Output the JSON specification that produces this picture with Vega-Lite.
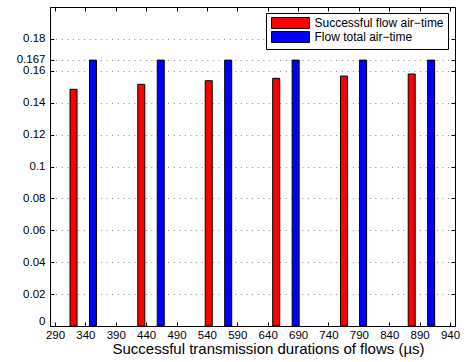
{
  "$schema": "https://vega.github.io/schema/vega-lite/v6.json",
  "width": 405,
  "height": 319,
  "autosize": {"type": "none"},
  "padding": {"left": 50, "top": 7, "right": 18, "bottom": 36},
  "background": "white",
  "config": {
    "font": "Liberation Sans",
    "view": {"stroke": "black", "strokeWidth": 1},
    "axis": {
      "labelFont": "Liberation Sans",
      "labelFontSize": 11.5,
      "labelColor": "black",
      "titleFont": "Liberation Sans",
      "titleFontSize": 15,
      "titleFontWeight": "normal",
      "titleColor": "black",
      "domainColor": "black",
      "tickColor": "black",
      "tickSize": -4
    }
  },
  "data": {
    "values": [
      {"duration": 320.5, "airtime": 0.1484, "series": "Successful flow air−time"},
      {"duration": 432, "airtime": 0.1515, "series": "Successful flow air−time"},
      {"duration": 543, "airtime": 0.1538, "series": "Successful flow air−time"},
      {"duration": 654, "airtime": 0.1553, "series": "Successful flow air−time"},
      {"duration": 765.5, "airtime": 0.1567, "series": "Successful flow air−time"},
      {"duration": 877, "airtime": 0.158, "series": "Successful flow air−time"},
      {"duration": 352.5, "airtime": 0.1667, "series": "Flow total air−time"},
      {"duration": 464, "airtime": 0.1667, "series": "Flow total air−time"},
      {"duration": 575, "airtime": 0.1667, "series": "Flow total air−time"},
      {"duration": 686, "airtime": 0.1667, "series": "Flow total air−time"},
      {"duration": 797, "airtime": 0.1667, "series": "Flow total air−time"},
      {"duration": 909, "airtime": 0.1667, "series": "Flow total air−time"}
    ]
  },
  "resolve": {"axis": {"x": "independent", "y": "independent"}},
  "layer": [
    {
      "mark": {"type": "bar", "width": 7, "stroke": "black", "strokeWidth": 1},
      "encoding": {
        "x": {
          "field": "duration", "type": "quantitative",
          "scale": {"domain": [290, 940], "nice": false, "zero": false},
          "axis": {
            "values": [290, 340, 390, 440, 490, 540, 590, 640, 690, 740, 790, 840, 890, 940],
            "title": "Successful transmission durations of flows (µs)",
            "grid": false,
            "labelFlush": false,
            "labelPadding": 7,
            "labelOverlap": false,
            "titlePadding": 1,
            "titleX": 218
          }
        },
        "y": {
          "field": "airtime", "type": "quantitative",
          "scale": {"domain": [0, 0.2], "nice": false},
          "axis": {
            "values": [0, 0.02, 0.04, 0.06, 0.08, 0.1, 0.12, 0.14, 0.16, 0.167, 0.18],
            "labelExpr": "format(datum.value, '.3~g')",
            "title": null,
            "grid": true,
            "gridColor": "#888888",
            "gridDash": [1, 4.6],
            "gridWidth": 1,
            "labelFlush": true,
            "labelOverlap": false,
            "labelPadding": 9
          }
        },
        "fill": {
          "field": "series", "type": "nominal",
          "scale": {"domain": ["Successful flow air−time", "Flow total air−time"], "range": ["#ff0000", "#0000ff"]},
          "legend": {
            "title": null,
            "orient": "none",
            "legendX": 216,
            "legendY": 6,
            "direction": "vertical",
            "strokeColor": "black",
            "fillColor": "white",
            "padding": 4,
            "rowPadding": -2,
            "symbolType": "M-3.45,-1L3.45,-1L3.45,1L-3.45,1Z",
            "symbolSize": 121,
            "symbolStrokeColor": "black",
            "symbolStrokeWidth": 1,
            "symbolOffset": 14.5,
            "labelOffset": 18,
            "labelFont": "Liberation Sans",
            "labelFontSize": 12,
            "labelColor": "black",
            "labelLimit": 300
          }
        }
      }
    },
    {
      "mark": {"type": "point", "opacity": 0},
      "encoding": {
        "x": {
          "field": "duration", "type": "quantitative",
          "scale": {"domain": [290, 940], "nice": false, "zero": false},
          "axis": {
            "orient": "top",
            "values": [290, 340, 390, 440, 490, 540, 590, 640, 690, 740, 790, 840, 890, 940],
            "labels": false, "title": null, "grid": false, "domain": false
          }
        },
        "y": {
          "field": "airtime", "type": "quantitative",
          "scale": {"domain": [0, 0.2], "nice": false},
          "axis": {
            "orient": "right",
            "values": [0, 0.02, 0.04, 0.06, 0.08, 0.1, 0.12, 0.14, 0.16, 0.167, 0.18],
            "labels": false, "title": null, "grid": false, "domain": false
          }
        }
      }
    }
  ]
}
